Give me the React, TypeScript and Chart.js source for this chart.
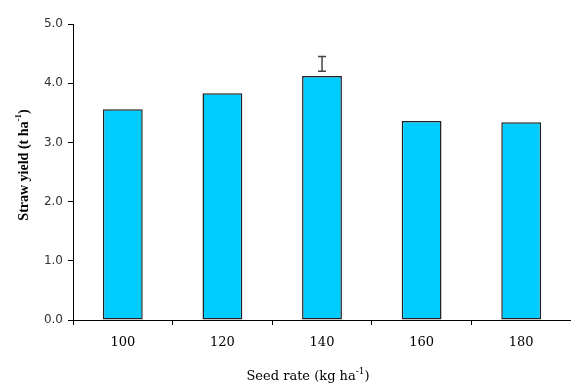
import React, { useEffect, useRef } from "react";
import { Chart, registerables } from "chart.js";

Chart.register(...registerables);

const categories = ["100", "120", "140", "160", "180"];
const strawYield = [3.56, 3.83, 4.12, 3.36, 3.34];
const errIndex = 2;
const errLow = 4.2;
const errHigh = 4.45;
const yTicks = [0, 1, 2, 3, 4, 5];
const xTitle = ["Seed rate (kg ha", "-1", ")"];
const yTitle = ["Straw yield (t ha", "-1", ")"];

function drawSupText(ctx: CanvasRenderingContext2D, parts: string[], font: string, supFont: string, rise: number) {
  ctx.font = font;
  const w0 = ctx.measureText(parts[0]).width;
  const w2 = ctx.measureText(parts[2]).width;
  ctx.font = supFont;
  const w1 = ctx.measureText(parts[1]).width;
  const total = w0 + w1 + w2;
  let x = -total / 2;
  ctx.textAlign = "left";
  ctx.textBaseline = "alphabetic";
  ctx.font = font;
  ctx.fillText(parts[0], x, 0);
  x += w0;
  ctx.font = supFont;
  ctx.fillText(parts[1], x, -rise);
  x += w1;
  ctx.font = font;
  ctx.fillText(parts[2], x, 0);
}

const extrasPlugin = {
  id: "extras",
  afterDatasetsDraw(chart: any) {
    const ctx = chart.ctx as CanvasRenderingContext2D;
    const xs = chart.scales.x;
    const ys = chart.scales.y;
    const cx = xs.getPixelForValue(errIndex);
    const y1 = ys.getPixelForValue(errLow);
    const y2 = ys.getPixelForValue(errHigh);
    ctx.save();
    ctx.strokeStyle = "#444";
    ctx.lineWidth = 1.5;
    ctx.beginPath();
    ctx.moveTo(cx, y1);
    ctx.lineTo(cx, y2);
    ctx.moveTo(cx - 4, y1);
    ctx.lineTo(cx + 4, y1);
    ctx.moveTo(cx - 4, y2);
    ctx.lineTo(cx + 4, y2);
    ctx.stroke();
    ctx.restore();
  },
  afterDraw(chart: any) {
    const ctx = chart.ctx as CanvasRenderingContext2D;
    ctx.save();
    ctx.fillStyle = "#000";
    ctx.translate(308, 380);
    drawSupText(ctx, xTitle, "13px 'DejaVu Serif'", "9px 'DejaVu Serif'", 6);
    ctx.restore();
    ctx.save();
    ctx.fillStyle = "#000";
    ctx.translate(28, 165);
    ctx.rotate(-Math.PI / 2);
    drawSupText(ctx, yTitle, "bold 14px 'Liberation Serif'", "bold 9px 'Liberation Serif'", 7);
    ctx.restore();
  },
};

export default function App() {
  const ref = useRef<HTMLCanvasElement | null>(null);
  useEffect(() => {
    document.body.style.margin = "0";
    const chart = new Chart(ref.current as HTMLCanvasElement, {
      type: "bar",
      data: {
        labels: categories,
        datasets: [
          {
            data: strawYield,
            backgroundColor: "#00CCFF",
            borderColor: "#222",
            borderWidth: 1.5,
            borderSkipped: false,
            barPercentage: 0.4,
            categoryPercentage: 1,
          },
        ],
      },
      options: {
        responsive: false,
        animation: false,
        layout: { padding: { top: 24, right: 0, left: 0, bottom: 0 } },
        plugins: { legend: { display: false }, tooltip: { enabled: false } },
        scales: {
          x: {
            grid: { drawOnChartArea: false, drawTicks: true, tickLength: 5, color: "#000", offset: true },
            border: { display: true, color: "#000", width: 1 },
            ticks: { color: "#000", font: { family: "'DejaVu Serif'", size: 13 }, padding: 10 },
            afterFit: (s: any) => { s.height = 65; },
          },
          y: {
            min: 0,
            max: 5,
            afterBuildTicks: (s: any) => { s.ticks = yTicks.map((v) => ({ value: v })); },
            grid: { drawOnChartArea: false, drawTicks: true, tickLength: 5, color: "#000" },
            border: { display: true, color: "#000", width: 1 },
            ticks: {
              color: "#333",
              font: { family: "'DejaVu Sans'", size: 12 },
              padding: 5,
              callback: (v: any) => Number(v).toFixed(1),
            },
            afterFit: (s: any) => { s.width = 73; },
          },
        },
      },
      plugins: [extrasPlugin],
    });
    return () => chart.destroy();
  }, []);
  return (
    <div style={{ width: 571, height: 385 }}>
      <canvas ref={ref} width={571} height={385} style={{ display: "block" }} />
    </div>
  );
}
